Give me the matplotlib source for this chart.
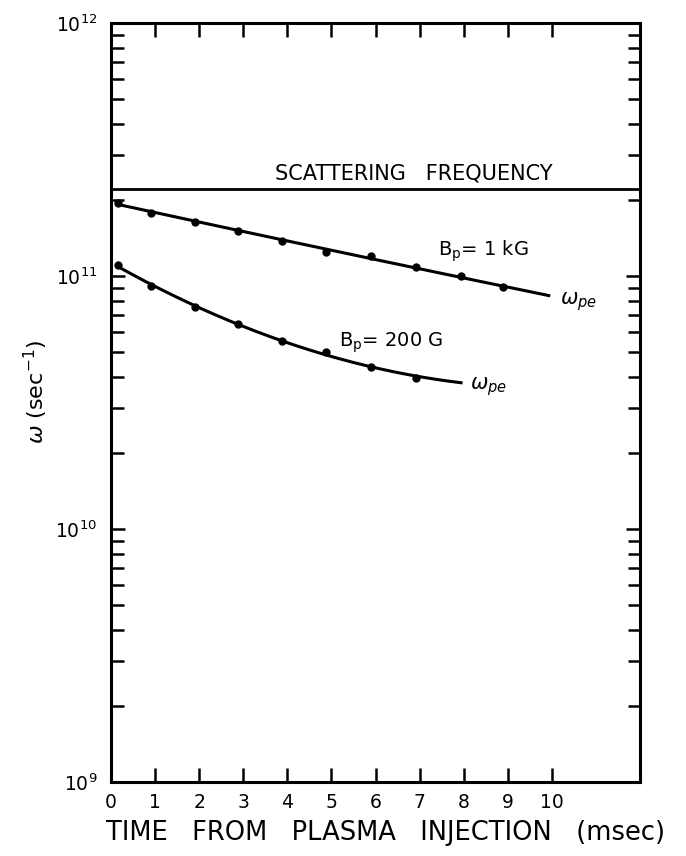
import numpy as np
import matplotlib
matplotlib.use('Agg')
import matplotlib.pyplot as plt
from matplotlib.ticker import LogLocator, NullFormatter

plt.rcParams['font.family'] = ['DejaVu Sans']
plt.rcParams['mathtext.fontset'] = 'dejavusans'

# 測定点（時間 msec, 周波数 sec^-1）
t_1kg = [0.16, 0.91, 1.9, 2.88, 3.88, 4.88, 5.9, 6.92, 7.94, 8.89]
w_1kg = [1.95e11, 1.78e11, 1.64e11, 1.51e11, 1.38e11, 1.25e11, 1.20e11, 1.09e11, 9.97e10, 9.03e10]
t_200g = [0.16, 0.91, 1.9, 2.88, 3.88, 4.88, 5.9, 6.92]
w_200g = [1.11e11, 9.1e10, 7.53e10, 6.46e10, 5.54e10, 5.0e10, 4.37e10, 3.95e10]

# 曲線の終点
end_1kg = (9.93, 8.32e10)
end_200g = (7.94, 3.81e10)

scatter_freq = 2.2e11

x_ticks = list(range(0, 11))
x_labels = [str(i) for i in x_ticks]

fig = plt.figure(figsize=(6.86, 8.56), dpi=100)
ax = fig.add_axes([0.1618, 0.0864, 0.9330 - 0.1618, 0.9731 - 0.0864])

ax.set_yscale('log')
ax.set_xlim(0, 12)
ax.set_ylim(1e9, 1e12)


def smooth(t, w, t1):
    # log空間で2次式をあてはめて滑らかな曲線にする
    c = np.polyfit(t, np.log10(w), 2)
    tt = np.linspace(t[0], t1, 200)
    return tt, 10 ** np.polyval(c, tt)


tt, ww = smooth(t_1kg + [end_1kg[0]], w_1kg + [end_1kg[1]], end_1kg[0])
ax.plot(tt, ww, color='black', lw=2.2)
ax.plot(t_1kg, w_1kg, 'o', color='black', ms=5)

tt, ww = smooth(t_200g + [end_200g[0]], w_200g + [end_200g[1]], end_200g[0])
ax.plot(tt, ww, color='black', lw=2.2)
ax.plot(t_200g, w_200g, 'o', color='black', ms=5)

ax.axhline(scatter_freq, color='black', lw=2.0)
ax.text(6.87, 2.4e11, 'SCATTERING   FREQUENCY', ha='center', va='baseline', fontsize=15)

ax.text(7.41, 1.25e11, r'B$_\mathrm{p}$= 1 kG', ha='left', va='center', fontsize=14)
ax.text(10.18, 7.9e10, r'$\omega_{pe}$', ha='left', va='center', fontsize=15)
ax.text(5.17, 5.45e10, r'B$_\mathrm{p}$= 200 G', ha='left', va='center', fontsize=14)
ax.text(8.14, 3.64e10, r'$\omega_{pe}$', ha='left', va='center', fontsize=15)

# 目盛り
ax.set_xticks(x_ticks)
ax.set_xticklabels(x_labels)
ax.yaxis.set_major_locator(LogLocator(base=10))
ax.yaxis.set_minor_locator(LogLocator(base=10, subs=np.arange(2, 10)))
ax.yaxis.set_minor_formatter(NullFormatter())

ax.tick_params(axis='both', which='both', direction='in', top=True, right=True,
               width=1.8, color='black')
ax.tick_params(axis='both', which='major', length=10)
ax.tick_params(axis='y', which='minor', length=9)
ax.tick_params(axis='x', which='major', labelsize=13.5, pad=8)
ax.tick_params(axis='y', which='major', labelsize=13.5, pad=10)

for s in ax.spines.values():
    s.set_linewidth(2.2)

ax.set_xlabel('TIME   FROM   PLASMA   INJECTION   (msec)', fontsize=18.5)
ax.set_ylabel(r'$\omega$ (sec$^{-1}$)', fontsize=16)
ax.xaxis.set_label_coords(0.518, -0.05)
ax.yaxis.set_label_coords(-0.115, 0.514)

fig.savefig('out.png', dpi=100)
